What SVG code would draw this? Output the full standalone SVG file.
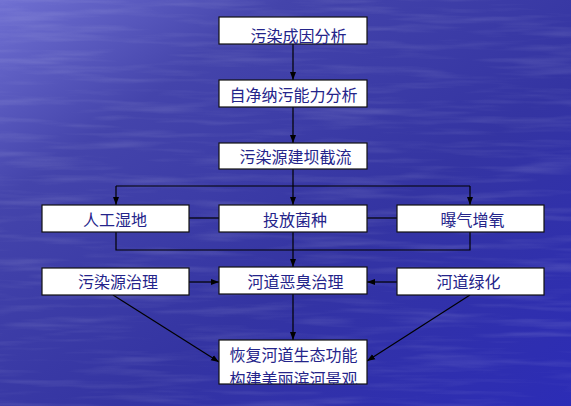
<svg xmlns="http://www.w3.org/2000/svg" width="571" height="406" viewBox="0 0 571 406">
<defs>
<linearGradient id="bg" x1="0" y1="0" x2="1" y2="1">
<stop offset="0" stop-color="#7070d2"/>
<stop offset="0.25" stop-color="#4444ab"/>
<stop offset="0.6" stop-color="#3434a2"/>
<stop offset="1" stop-color="#2c2cb6"/>
</linearGradient>
<filter id="water" x="0" y="0" width="100%" height="100%">
<feTurbulence type="fractalNoise" baseFrequency="0.01 0.12" numOctaves="3" seed="7"/>
<feColorMatrix type="matrix" values="0 0 0 0 1  0 0 0 0 1  0 0 0 0 1  1.3 0 0 0 -0.6"/>
</filter>
<marker id="ah" viewBox="0 0 8 8" refX="8" refY="4" markerWidth="8" markerHeight="8" markerUnits="userSpaceOnUse" orient="auto">
<path d="M0,1 L8,4 L0,7 Z" fill="#000"/>
</marker>
<clipPath id="clipLast"><rect x="219" y="340" width="148" height="44"/></clipPath>
<style>
.box{fill:#fff;stroke:#111;stroke-width:1.2}
.t{font-family:"Noto Sans CJK SC","Noto Sans CJK JP",sans-serif;font-size:16px;fill:#24248a;text-anchor:middle}
.c{fill:none;stroke:#000;stroke-width:1.2}
.a{marker-end:url(#ah)}
</style>
</defs>
<rect width="571" height="406" fill="url(#bg)"/>
<rect width="571" height="406" filter="url(#water)" opacity="0.2"/>

<g id="connectors">
<line class="c a" x1="293" y1="44" x2="293" y2="80"/>
<line class="c a" x1="293" y1="107" x2="293" y2="143"/>
<line class="c a" x1="293" y1="169" x2="293" y2="205"/>
<line class="c" x1="116" y1="186" x2="470" y2="186"/>
<line class="c a" x1="116" y1="186" x2="116" y2="205"/>
<line class="c a" x1="470" y1="186" x2="470" y2="205"/>
<line class="c" x1="189" y1="218" x2="219" y2="218"/>
<line class="c" x1="367" y1="218" x2="397" y2="218"/>
<polyline class="c" points="116,232 116,250 470,250 470,232"/>
<line class="c a" x1="293" y1="232" x2="293" y2="267"/>
<line class="c a" x1="189" y1="282" x2="219" y2="282"/>
<line class="c a" x1="397" y1="282" x2="367" y2="282"/>
<line class="c a" x1="293" y1="294" x2="293" y2="340"/>
<line class="c a" x1="113" y1="295" x2="219" y2="362"/>
<line class="c a" x1="470" y1="295" x2="367" y2="361"/>
</g>

<g id="n1"><rect class="box" x="219" y="17" width="148" height="27"/><text class="t" x="298.5" y="42">污染成因分析</text></g>
<g id="n2"><rect class="box" x="219" y="80" width="148" height="27"/><text class="t" x="293.5" y="101">自净纳污能力分析</text></g>
<g id="n3"><rect class="box" x="219" y="143" width="148" height="26"/><text class="t" x="295.5" y="163">污染源建坝截流</text></g>
<g id="n4"><rect class="box" x="42" y="205" width="147" height="27"/><text class="t" x="115" y="226">人工湿地</text></g>
<g id="n5"><rect class="box" x="219" y="205" width="148" height="27"/><text class="t" x="295" y="226">投放菌种</text></g>
<g id="n6"><rect class="box" x="397" y="205" width="147" height="27"/><text class="t" x="472.5" y="226">曝气增氧</text></g>
<g id="n7"><rect class="box" x="42" y="268" width="147" height="27"/><text class="t" x="118" y="288">污染源治理</text></g>
<g id="n8"><rect class="box" x="219" y="267" width="148" height="27"/><text class="t" x="295.5" y="288">河道恶臭治理</text></g>
<g id="n9"><rect class="box" x="397" y="268" width="147" height="27"/><text class="t" x="468.5" y="288">河道绿化</text></g>
<g id="n10"><rect class="box" x="219" y="340" width="148" height="44"/><g clip-path="url(#clipLast)"><text class="t" x="293.5" y="361">恢复河道生态功能</text><text class="t" x="293.5" y="385">构建美丽滨河景观</text></g></g>
</svg>
